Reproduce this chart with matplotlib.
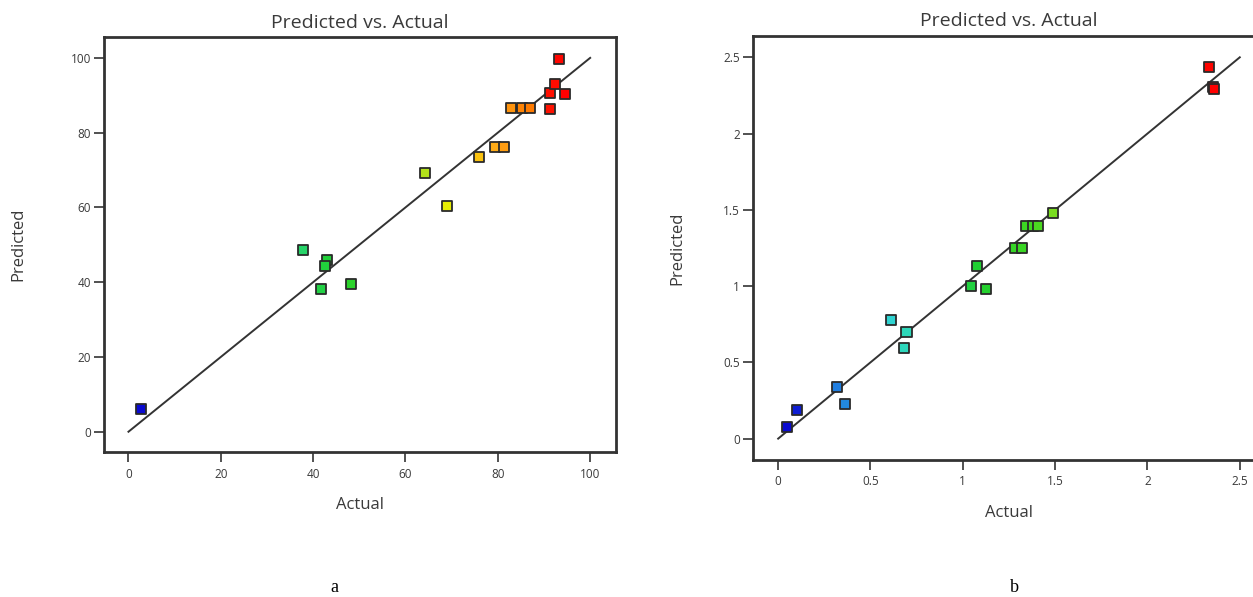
import matplotlib
matplotlib.use("Agg")
import matplotlib.pyplot as plt
from matplotlib.colors import LinearSegmentedColormap, Normalize
import numpy as np

# ---- data: panel a ----
actual_a = [2.8, 37.7, 43.1, 42.6, 41.6, 48.1, 64.2, 69.0, 75.9, 79.4, 81.4,
            82.9, 85.3, 86.9, 91.2, 91.4, 92.3, 94.5, 93.3]
predicted_a = [6.0, 48.6, 45.9, 44.3, 38.3, 39.5, 69.1, 60.4, 73.5, 76.2, 76.2,
               86.5, 86.5, 86.5, 86.2, 90.6, 93.1, 90.3, 99.6]
ticks_a = [0, 20, 40, 60, 80, 100]
ticklabels_a = ["0", "20", "40", "60", "80", "100"]

# ---- data: panel b ----
actual_b = [0.047, 0.101, 0.321, 0.362, 0.610, 0.695, 0.684, 1.042, 1.078, 1.126,
            1.283, 1.322, 1.344, 1.378, 1.406, 1.488, 2.334, 2.355, 2.360]
predicted_b = [0.079, 0.188, 0.341, 0.227, 0.778, 0.701, 0.594, 1.001, 1.134, 0.983,
               1.250, 1.250, 1.396, 1.396, 1.396, 1.482, 2.434, 2.303, 2.290]
ticks_b = [0, 0.5, 1, 1.5, 2, 2.5]
ticklabels_b = ["0", "0.5", "1", "1.5", "2", "2.5"]

title = "Predicted vs. Actual"
xlabel = "Actual"
ylabel = "Predicted"
panel_labels = ["a", "b"]

FONT = ["Open Sans", "DejaVu Sans"]
TXT = "#3a3a3a"

cmap = LinearSegmentedColormap.from_list(
    "de",
    [(0.0, "#0a0ad0"), (0.12, "#2080e0"), (0.25, "#30d8d0"),
     (0.45, "#20d030"), (0.58, "#40d820"), (0.66, "#a8e020"),
     (0.73, "#f0f000"), (0.84, "#ffa818"), (0.92, "#ff7a00"),
     (0.95, "#ff1800"), (1.0, "#ff0000")])

fig = plt.figure(figsize=(12.53, 5.97), dpi=100)

def panel(rect, act, pred, lims, ticks, labels, diag, ypad):
    ax = fig.add_axes(rect)
    ax.set_xlim(*lims[0])
    ax.set_ylim(*lims[1])
    ax.plot(diag, diag, color="#333333", lw=1.4, zorder=2)
    norm = Normalize(min(act), max(act))
    ax.scatter(act, pred, marker="s", s=52, c=[cmap(norm(v)) for v in act],
               edgecolors="#2a2a2a", linewidths=1.3, zorder=3)
    ax.set_xticks(ticks)
    ax.set_yticks(ticks)
    ax.set_xticklabels(labels, fontsize=8.5, color=TXT, family=FONT)
    ax.set_yticklabels(labels, fontsize=8.5, color=TXT, family=FONT)
    ax.tick_params(direction="out", length=7, width=1.2, color="#333333")
    ax.tick_params(axis="x", pad=4)
    ax.tick_params(axis="y", pad=2.5)
    for s in ax.spines.values():
        s.set_linewidth(2.0)
        s.set_color("#333333")
    ax.set_title(title, fontsize=14, color=TXT, family=FONT, pad=7)
    ax.set_xlabel(xlabel, fontsize=12, color=TXT, family=FONT, labelpad=12)
    ax.set_ylabel(ylabel, fontsize=12, color=TXT, family=FONT, labelpad=ypad)
    return ax

ax1 = panel([0.083, 0.2424, 0.409, 0.6951], actual_a, predicted_a,
            ((-5.3, 105.7), (-5.5, 105.5)), ticks_a, ticklabels_a, [0, 100], 32)
ax2 = panel([0.601, 0.2295, 0.4085, 0.7103], actual_b, predicted_b,
            ((-0.136, 2.636), (-0.14, 2.64)), ticks_b, ticklabels_b, [0, 2.5], 27)

fig.text(334 / 1253, 1 - 587 / 597, panel_labels[0], family="Liberation Serif",
         fontsize=13, ha="center", va="center", color="black")
fig.text(1014 / 1253, 1 - 587 / 597, panel_labels[1], family="Liberation Serif",
         fontsize=13, ha="center", va="center", color="black")

fig.savefig("out.png", dpi=100)
